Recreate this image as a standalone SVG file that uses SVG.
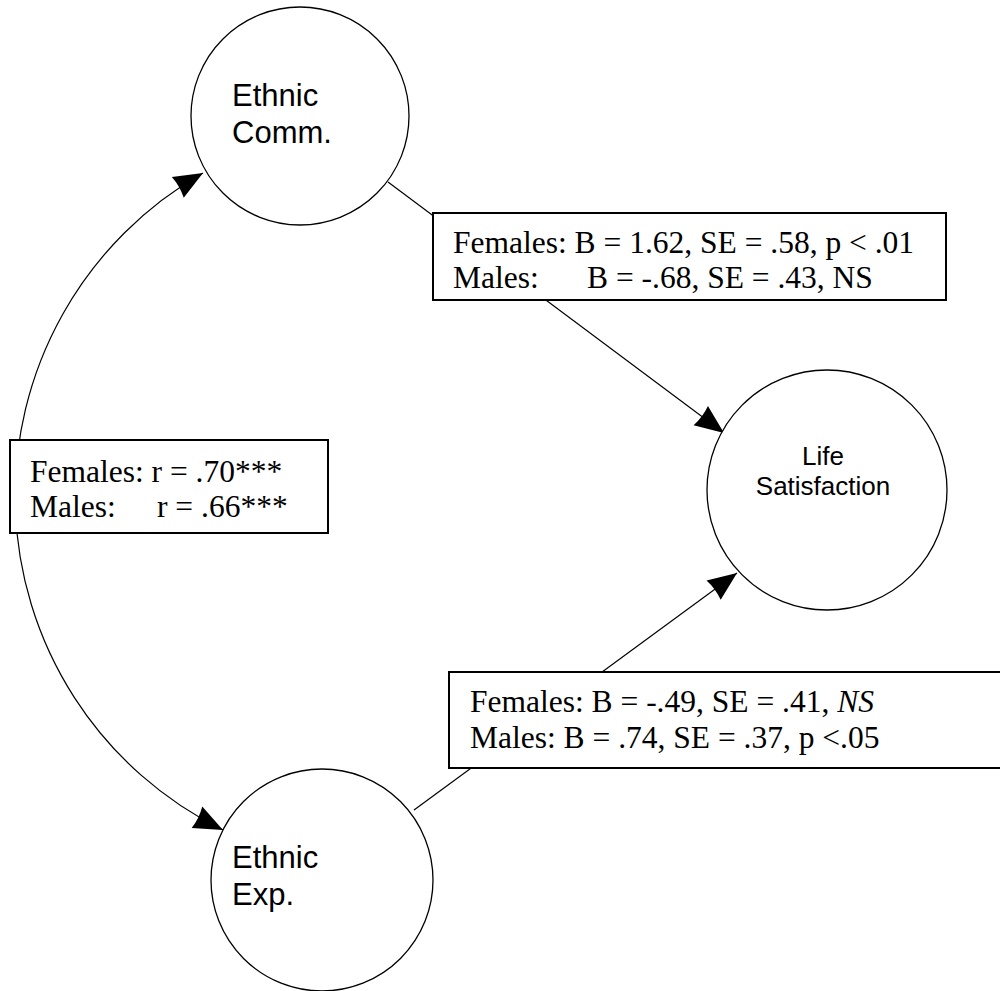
<svg xmlns="http://www.w3.org/2000/svg" width="1000" height="991" viewBox="0 0 1000 991">
<style>
.node{fill:#fff;stroke:#000;stroke-width:1.3}
.edge{fill:none;stroke:#000;stroke-width:1.2}
.box{fill:#fff;stroke:#000;stroke-width:2}
.sans{font-family:"Liberation Sans",Arial,sans-serif;fill:#000}
.serif{font-family:"Liberation Serif","Times New Roman",serif;font-size:31.5px;fill:#000}
</style>
<defs>
<marker id="ah" viewBox="-31 -14 33 28" markerWidth="33" markerHeight="28" refX="0" refY="0" markerUnits="userSpaceOnUse" orient="auto-start-reverse">
<path d="M0,0 L-29,-12 Q-26.5,0 -29,12 Z" fill="#000"/>
</marker>
</defs>
<g id="connectors">
<path class="edge" d="M203,173 A372,372 0 0 0 223,830" marker-start="url(#ah)" marker-end="url(#ah)"/>
<line class="edge" x1="388" y1="182" x2="724" y2="433" marker-end="url(#ah)"/>
<line class="edge" x1="414" y1="810" x2="737" y2="573" marker-end="url(#ah)"/>
</g>
<g id="label-comm-life">
<rect class="box" x="433" y="213" width="513" height="87"/>
<text class="serif" x="453" y="253">Females: B = 1.62, SE = .58, p &lt; .01</text>
<text class="serif" x="453" y="288">Males:</text>
<text class="serif" x="587" y="288">B = -.68, SE = .43, NS</text>
</g>
<g id="label-corr">
<rect class="box" x="10" y="440" width="318" height="93"/>
<text class="serif" x="30" y="482">Females: r = .70***</text>
<text class="serif" x="30" y="517">Males:</text>
<text class="serif" x="157" y="517">r = .66***</text>
</g>
<g id="label-exp-life">
<rect class="box" x="449" y="672" width="552" height="96"/>
<text class="serif" x="470" y="712">Females: B = -.49, SE = .41, <tspan font-style="italic">NS</tspan></text>
<text class="serif" x="470" y="748">Males: B = .74, SE = .37, p &lt;.05</text>
</g>
<g id="ethnic-comm">
<circle class="node" cx="300" cy="116" r="109"/>
<text class="sans" font-size="31" x="232" y="106">Ethnic</text>
<text class="sans" font-size="31" x="232" y="143">Comm.</text>
</g>
<g id="life-satisfaction">
<circle class="node" cx="827" cy="490" r="120"/>
<text class="sans" font-size="26" x="823" y="465" text-anchor="middle">Life</text>
<text class="sans" font-size="26" x="823" y="495" text-anchor="middle">Satisfaction</text>
</g>
<g id="ethnic-exp">
<circle class="node" cx="322" cy="880" r="111"/>
<text class="sans" font-size="31" x="232" y="868">Ethnic</text>
<text class="sans" font-size="31" x="232" y="905">Exp.</text>
</g>
</svg>
